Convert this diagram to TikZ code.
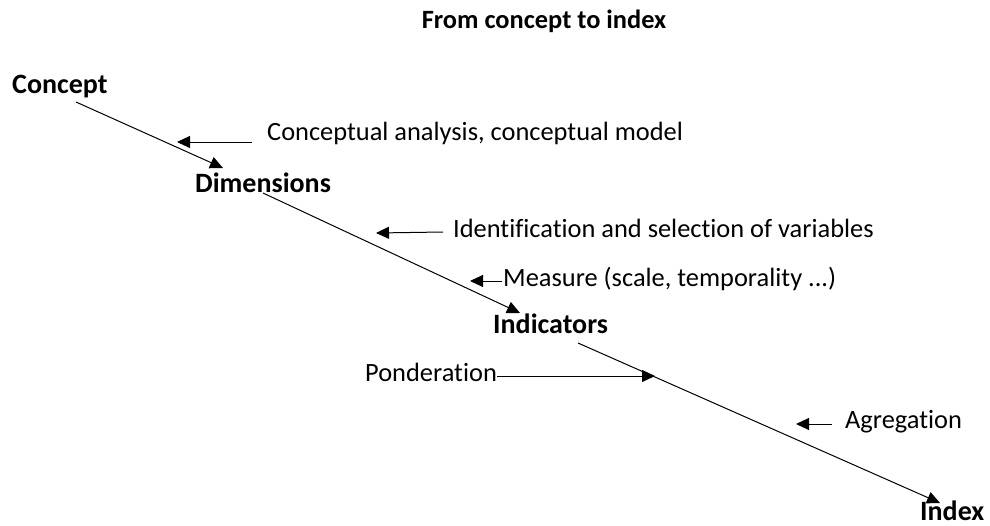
\documentclass[tikz,border=0pt]{standalone}
\usepackage{fontspec}
\setmainfont[Ligatures=NoCommon]{Carlito}
\usetikzlibrary{arrows.meta}
\begin{document}
\begin{tikzpicture}[x=1pt,y=-1pt,
  lbl/.style={anchor=base west,inner sep=0pt,font=\fontsize{26.4}{30}\selectfont},
  head/.style={anchor=base west,inner sep=0pt,font=\fontsize{28}{32}\selectfont\bfseries},
  ttl/.style={anchor=base,inner sep=0pt,font=\fontsize{26.4}{30}\selectfont\bfseries},
  conn/.style={line width=1pt,-{Triangle[length=13pt,width=12pt]}}]
\useasboundingbox (0,0) rectangle (990,525);
% title
\node[ttl] (title) at (544,28) {From concept to index};
% main nodes
\node[head] (concept) at (12,93) {Concept};
\node[head] (dims) at (195,192) {Dimensions};
\node[head] (inds) at (493,333) {Indicators};
\node[head] (index) at (920,520) {Index};
% labels
\node[lbl] (l1) at (267,140) {Conceptual analysis, conceptual model};
\node[lbl] (l2) at (453,237) {Identification and selection of variables};
\node[lbl] (l3) at (503,286) {Measure (scale, temporality ...)};
\node[lbl] (l4) at (365,381) {Ponderation};
\node[lbl] (l5) at (845,428) {Agregation};
% coordinates for the main line
\coordinate (c1s) at (76,102);
\coordinate (c1e) at (223,168);
\coordinate (c2s) at (263,193);
\coordinate (c2e) at (520,313);
\coordinate (c3s) at (578,343);
\coordinate (c3e) at (940,503);
% label arrow ends
\coordinate (a1s) at (252,142); \coordinate (a1e) at (177,142);
\coordinate (a2s) at (443,232); \coordinate (a2e) at (376,233);
\coordinate (a3s) at (502,281); \coordinate (a3e) at (470,281);
\coordinate (a4s) at (497,376); \coordinate (a4e) at (655,376);
\coordinate (a5s) at (832,424); \coordinate (a5e) at (796,424);
% connectors
\draw[conn] (c1s) -- (c1e);
\draw[conn] (c2s) -- (c2e);
\draw[conn] (c3s) -- (c3e);
\draw[conn] (a1s) -- (a1e);
\draw[conn] (a2s) -- (a2e);
\draw[conn] (a3s) -- (a3e);
\draw[conn] (a4s) -- (a4e);
\draw[conn] (a5s) -- (a5e);
\end{tikzpicture}
\end{document}
